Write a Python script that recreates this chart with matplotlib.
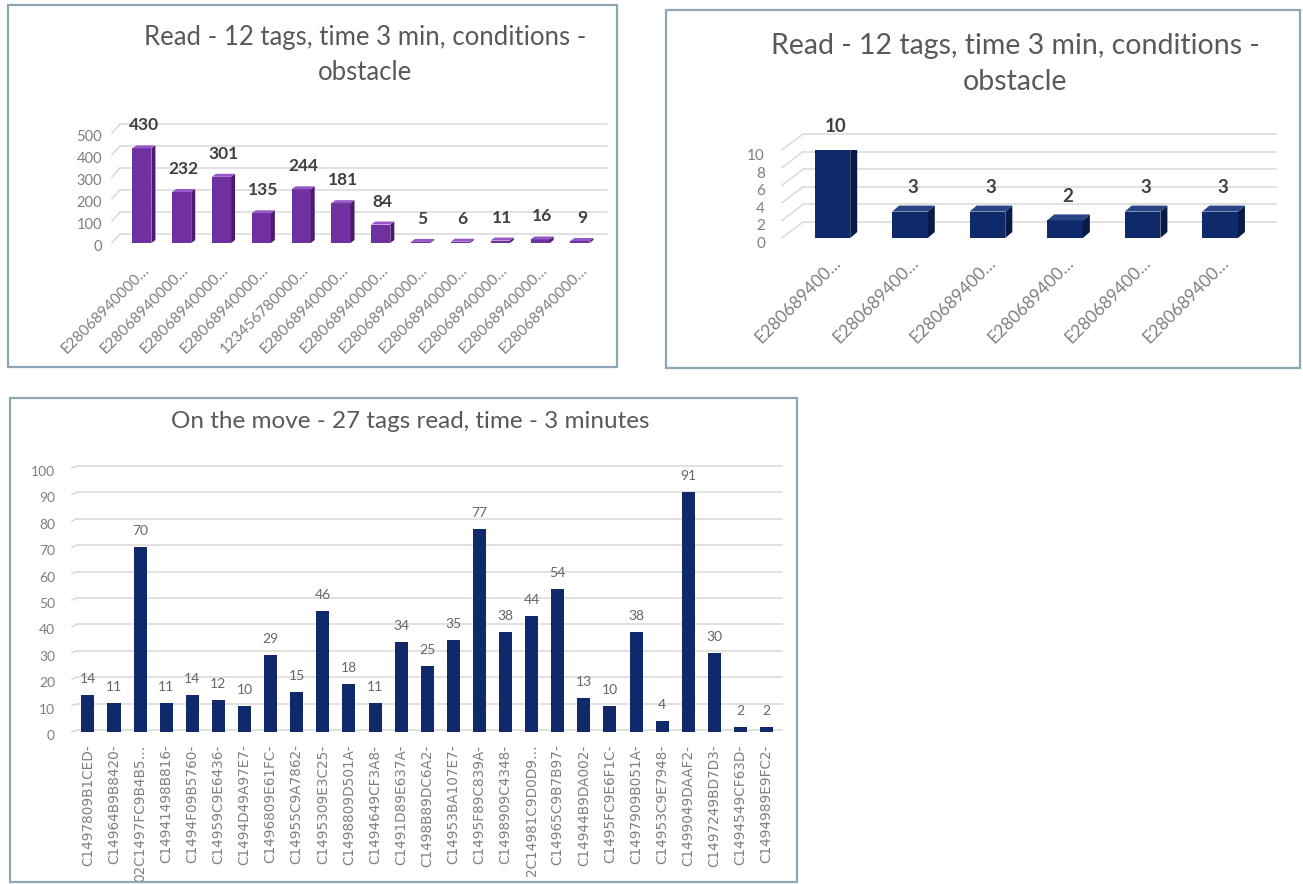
import matplotlib
matplotlib.use("Agg")
import matplotlib.pyplot as plt
from matplotlib.patches import Polygon, Rectangle
from matplotlib.transforms import offset_copy

W, H = 1303, 884

# ---- data -------------------------------------------------------------
obstacle_tags = ["E28068940000…"] * 4 + ["123456780000…"] + ["E28068940000…"] * 7
obstacle_reads = [430, 232, 301, 135, 244, 181, 84, 5, 6, 11, 16, 9]
obstacle_ticks = [0, 100, 200, 300, 400, 500]

second_tags = ["E280689400…"] * 6
second_reads = [10, 3, 3, 2, 3, 3]
second_ticks = [0, 2, 4, 6, 8, 10]

move_tags = [
    "C1497809B1CED-", "C14964B9B8420-", "02C1497FC9B4B5…", "C14941498B816-",
    "C1494F09B5760-", "C14959C9E6436-", "C1494D49A97E7-", "C1496809E61FC-",
    "C14955C9A7862-", "C1495309E3C25-", "C1498809D501A-", "C1494649CF3A8-",
    "C1491D89E637A-", "C1498B89DC6A2-", "C14953BA107E7-", "C1495F89C839A-",
    "C1498909C4348-", "2C14981C9D0D9…", "C14965C9B7B97-", "C14944B9DA002-",
    "C1495FC9E6F1C-", "C1497909B051A-", "C14953C9E7948-", "C1499049DAAF2-",
    "C1497249BD7D3-", "C1494549CF63D-", "C1494989E9FC2-",
]
move_reads = [14, 11, 70, 11, 14, 12, 10, 29, 15, 46, 18, 11, 34, 25, 35,
              77, 38, 44, 54, 13, 10, 38, 4, 91, 30, 2, 2]
move_ticks = list(range(0, 101, 10))

title_obstacle = "Read - 12 tags, time 3 min, conditions -\nobstacle"
title_move = "On the move - 27 tags read, time - 3 minutes"

# ---- styling ----------------------------------------------------------
plt.rcParams["font.family"] = ["Lato", "DejaVu Sans"]
TITLE_C = "#595959"
TICK_C = "#7f7f7f"
VALUE_C = "#404040"
GRID_C = "#d9d9d9"
FRAME_C = "#8ea5b5"

fig = plt.figure(figsize=(W / 100, H / 100), dpi=100)
fig.patch.set_facecolor("white")


def px_box(x0, y0, x1, y1):
    return [x0 / W, 1 - y1 / H, (x1 - x0) / W, (y1 - y0) / H]


def frame(x0, y0, x1, y1):
    fig.patches.append(Rectangle((x0 / W, 1 - y1 / H), (x1 - x0) / W, (y1 - y0) / H,
                                 transform=fig.transFigure, fill=False,
                                 edgecolor=FRAME_C, linewidth=1.6, zorder=20))


def shift(ax, x, y, dx, dy):
    X, Y = ax.transData.transform((x, y))
    return tuple(ax.transData.inverted().transform((X + dx, Y + dy)))


def clean(ax):
    for s in ax.spines.values():
        s.set_visible(False)
    ax.set_facecolor("none")
    ax.tick_params(length=0)


def back_wall(ax, ticks, wall_dx, wall_dy):
    xl, xr = ax.get_xlim()
    for g in ticks:
        a = shift(ax, xl, g, wall_dx, wall_dy)
        b = shift(ax, xr, g, wall_dx, wall_dy)
        ax.plot([a[0], b[0]], [a[1], b[1]], color=GRID_C, lw=1.1, zorder=1, clip_on=False)
        ax.plot([xl, a[0]], [g, a[1]], color=GRID_C, lw=1.1, zorder=1, clip_on=False)


def y_labels(ax, ticks, pad_px, drop_px, size):
    ax.set_yticks(ticks)
    ax.set_yticklabels([])
    tr = offset_copy(ax.get_yaxis_transform(), fig=fig, x=-pad_px, y=-drop_px, units="dots")
    for g in ticks:
        ax.text(0, g, str(g), transform=tr, ha="right", va="center",
                fontsize=size, color=TICK_C)


def bars3d(ax, vals, width, depth, front, side, top):
    ddx, ddy = depth
    rects = ax.bar(range(len(vals)), vals, width=width, color=front, zorder=3)
    if ddx or ddy:
        for r in rects:
            x0, x1 = r.get_x(), r.get_x() + r.get_width()
            v = r.get_height()
            p0 = shift(ax, x1, 0, ddx, ddy)
            p1 = shift(ax, x1, v, ddx, ddy)
            p2 = shift(ax, x0, v, ddx, ddy)
            ax.add_patch(Polygon([(x1, 0), (x1, v), p1, p0], closed=True,
                                 facecolor=side, edgecolor="none", zorder=3))
            ax.add_patch(Polygon([(x0, v), (x1, v), p1, p2], closed=True,
                                 facecolor=top, edgecolor="none", zorder=3))
    return rects


def value_labels(ax, rects, lift_px, dx_px, size, weight, color):
    for r in rects:
        v = r.get_height()
        ax.annotate(f"{v:g}", xy=(r.get_x() + r.get_width() / 2, v),
                    xytext=(dx_px, lift_px), textcoords="offset pixels",
                    ha="center", va="center", fontsize=size,
                    fontweight=weight, color=color, annotation_clip=False)


# ---- panel 1: obstacle, 12 tags ---------------------------------------
frame(8, 5, 617, 367)
ax1 = fig.add_axes(px_box(112, 133, 599, 243))
clean(ax1)
ax1.set_xlim(-0.75, 11.48)
ax1.set_ylim(0, 500)
back_wall(ax1, obstacle_ticks, 8, 9)
r1 = bars3d(ax1, obstacle_reads, 0.48, (4, 3), "#7030a0", "#4b1c6e", "#9457c4")
value_labels(ax1, r1, 23, 2, 12.5, "bold", VALUE_C)
y_labels(ax1, obstacle_ticks, 10, 4, 10.5)
ax1.set_xticks(range(len(obstacle_tags)))
ax1.set_xticklabels(obstacle_tags, rotation=45, ha="right", rotation_mode="anchor",
                    fontsize=11, color=TICK_C)
ax1.tick_params(axis="x", pad=14)
fig.text(365 / W, 1 - 55 / H, title_obstacle, ha="center", va="center",
         fontsize=18.5, color=TITLE_C, linespacing=1.55)

# ---- panel 2: obstacle, 6 tags ----------------------------------------
frame(666, 10, 1300, 368)
ax2 = fig.add_axes(px_box(782, 150, 1255, 238))
clean(ax2)
ax2.set_xlim(-0.65, 5.45)
ax2.set_ylim(0, 10)
back_wall(ax2, second_ticks, 21, 16)
r2 = bars3d(ax2, second_reads, 0.46, (7, 6), "#0f2a6b", "#081a45", "#2a4585")
value_labels(ax2, r2, 24, 3, 13.5, "bold", VALUE_C)
y_labels(ax2, second_ticks, 17, 6, 11)
ax2.set_xticks(range(len(second_tags)))
ax2.set_xticklabels(second_tags, rotation=45, ha="right", rotation_mode="anchor",
                    fontsize=12.5, color=TICK_C)
ax2.tick_params(axis="x", pad=12)
fig.text(1015 / W, 1 - 64 / H, title_obstacle, ha="center", va="center",
         fontsize=20.5, color=TITLE_C, linespacing=1.5)

# ---- panel 3: on the move, 27 tags ------------------------------------
frame(10, 398, 797, 882)
ax3 = fig.add_axes(px_box(72, 468, 777, 732))
clean(ax3)
ax3.set_xlim(-0.61, 26.40)
ax3.set_ylim(0, 100)
back_wall(ax3, move_ticks, 5, 2)
r3 = bars3d(ax3, move_reads, 0.5, (0, 0), "#10296b", "#10296b", "#10296b")
value_labels(ax3, r3, 16, 0, 10, "normal", "#666666")
y_labels(ax3, move_ticks, 17, 4, 10)
ax3.set_xticks(range(len(move_tags)))
ax3.set_xticklabels(move_tags, rotation=90, ha="center", va="top",
                    fontsize=9.8, color=TICK_C, family=["DejaVu Sans"])
ax3.tick_params(axis="x", pad=9)
fig.text(410 / W, 1 - 421 / H, title_move, ha="center", va="center",
         fontsize=17.5, color=TITLE_C)

fig.savefig("out.png", dpi=100, facecolor="white")
